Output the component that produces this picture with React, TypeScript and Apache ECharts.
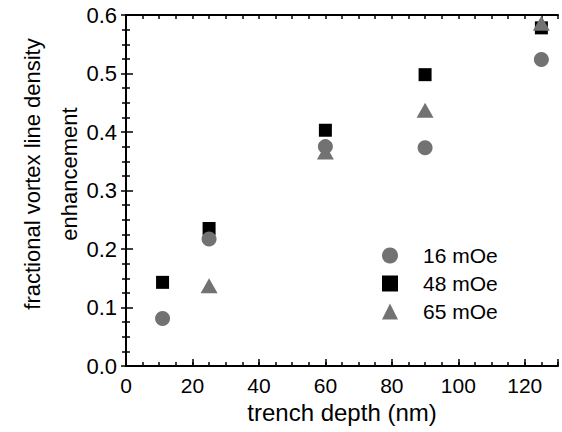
import React, { useEffect, useRef } from "react";
import * as echarts from "echarts";

const depth16 = [11, 25, 60, 90, 125];
const val16 = [0.081, 0.217, 0.375, 0.373, 0.524];
const depth48 = [11, 25, 60, 90, 125];
const val48 = [0.143, 0.235, 0.403, 0.498, 0.578];
const depth65 = [25, 60, 90, 125];
const val65 = [0.137, 0.366, 0.437, 0.586];
const seriesNames = ["16 mOe", "48 mOe", "65 mOe"];
const yTitle = "fractional vortex line density\nenhancement";
const xTitle = "trench depth (nm)";

const FONT = "Liberation Sans, Arial, Helvetica, sans-serif";

function pairs(xs: number[], ys: number[]) {
  return xs.map((x, i) => [x, ys[i]]);
}

export default function App() {
  const ref = useRef<HTMLDivElement>(null);
  useEffect(() => {
    if (!ref.current) return;
    const chart = echarts.init(ref.current, undefined, { renderer: "svg" });
    const axisLine = { show: true, lineStyle: { color: "#000", width: 2 } };
    chart.setOption({
      animation: false,
      backgroundColor: "#fff",
      textStyle: { fontFamily: FONT },
      grid: { left: 126, right: 4, top: 15, bottom: 66, containLabel: false },
      graphic: [
        {
          type: "text",
          x: 51,
          y: 174,
          rotation: Math.PI / 2,
          style: {
            text: yTitle,
            fill: "#000",
            font: `22px ${FONT}`,
            lineHeight: 37,
            align: "center",
            verticalAlign: "middle",
          },
        },
      ],
      legend: {
        orient: "vertical",
        left: 377,
        top: 240,
        itemWidth: 16,
        itemHeight: 16,
        itemGap: 7,
        data: [
          { name: seriesNames[0], icon: "circle" },
          { name: seriesNames[1], icon: "rect" },
          { name: seriesNames[2], icon: "triangle" },
        ],
        textStyle: { fontSize: 21, color: "#000", fontFamily: FONT, padding: [0, 0, 0, 20] },
      },
      xAxis: [
        {
          type: "value",
          position: "bottom",
          min: 0,
          max: 130,
          interval: 5,
          name: xTitle,
          nameLocation: "middle",
          nameGap: 34,
          nameTextStyle: { fontSize: 24, color: "#000", fontFamily: FONT },
          axisLine,
          axisTick: { show: true, inside: true, length: 4, lineStyle: { color: "#000", width: 1.5 } },
          axisLabel: {
            fontSize: 21,
            color: "#000",
            margin: 9,
            fontFamily: FONT,
            formatter: (v: number) => (v % 20 === 0 && v <= 120 ? String(v) : ""),
          },
          splitLine: { show: false },
        },
        {
          type: "value",
          position: "bottom",
          min: 0,
          max: 130,
          interval: 20,
          axisLine: { show: false },
          axisTick: { show: true, inside: true, length: 7, lineStyle: { color: "#000", width: 1.5 } },
          axisLabel: { show: false },
          splitLine: { show: false },
        },
        {
          type: "value",
          position: "top",
          min: 0,
          max: 130,
          interval: 5,
          axisLine,
          axisTick: { show: true, inside: true, length: 4, lineStyle: { color: "#000", width: 1.5 } },
          axisLabel: { show: false },
          splitLine: { show: false },
        },
      ],
      yAxis: [
        {
          type: "value",
          position: "left",
          min: 0,
          max: 0.6,
          interval: 0.1,
          axisLine,
          axisTick: { show: true, inside: true, length: 7, lineStyle: { color: "#000", width: 1.5 } },
          minorTick: { show: true, splitNumber: 4, length: 4, lineStyle: { color: "#000", width: 1.5 } },
          axisLabel: {
            fontSize: 22,
            color: "#000",
            margin: 9,
            fontFamily: FONT,
            formatter: (v: number) => v.toFixed(1),
          },
          splitLine: { show: false },
          minorSplitLine: { show: false },
        },
        {
          type: "value",
          position: "right",
          min: 0,
          max: 0.6,
          interval: 0.1,
          axisLine,
          axisTick: { show: true, inside: true, length: 5, lineStyle: { color: "#000", width: 1.5 } },
          minorTick: { show: true, splitNumber: 4, length: 4, lineStyle: { color: "#000", width: 1.5 } },
          axisLabel: { show: false },
          splitLine: { show: false },
        },
      ],
      series: [
        {
          name: seriesNames[1],
          type: "scatter",
          symbol: "rect",
          symbolSize: 13,
          itemStyle: { color: "#000", opacity: 1 },
          data: pairs(depth48, val48),
        },
        {
          name: seriesNames[0],
          type: "scatter",
          symbol: "circle",
          symbolSize: 15,
          itemStyle: { color: "#727272", opacity: 1 },
          data: pairs(depth16, val16),
        },
        {
          name: seriesNames[2],
          type: "scatter",
          symbol: "triangle",
          symbolSize: [17, 15],
          itemStyle: { color: "#727272", opacity: 1 },
          data: pairs(depth65, val65),
        },
      ],
    });
    return () => chart.dispose();
  }, []);
  return (
    <div
      ref={ref}
      style={{ position: "fixed", left: 0, top: 0, width: 562, height: 432, background: "#fff" }}
    />
  );
}
